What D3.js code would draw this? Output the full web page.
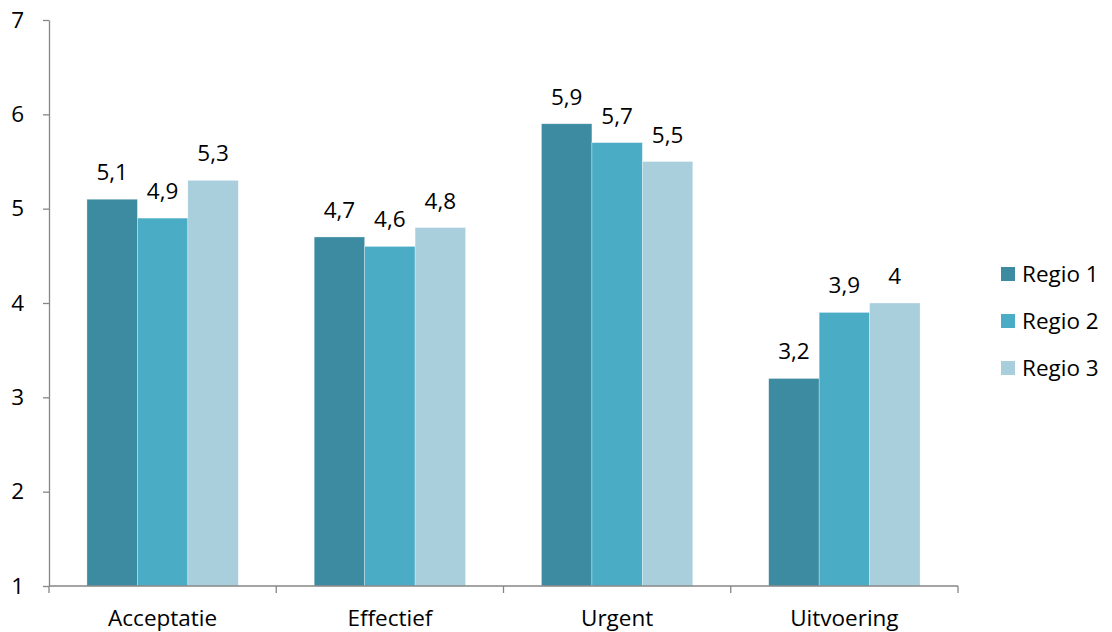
<!DOCTYPE html>
<html><head><meta charset="utf-8">
<script src="https://cdn.jsdelivr.net/npm/d3@7"></script>
<style>body{margin:0;background:#fff}svg{display:block}text{font-family:"Open Sans",sans-serif;fill:#000}</style>
</head><body><svg width="1112" height="632"></svg>
<script>
const categories = ["Acceptatie","Effectief","Urgent","Uitvoering"];
const seriesNames = ["Regio 1","Regio 2","Regio 3"];
const regio1 = [5.1,4.7,5.9,3.2];
const regio2 = [4.9,4.6,5.7,3.9];
const regio3 = [5.3,4.8,5.5,4.0];
const yTicks = [1,2,3,4,5,6,7];
const colors = ["#3d8ba1","#4bacc6","#a9cfdd"];
const series = [regio1, regio2, regio3];
const FS = "22.5px";

const svg = d3.select("svg");
const pL = 49, pR = 958, pT = 20, pB = 586;
const x = d3.scaleBand().domain(categories).range([pL,pR]).paddingInner(0.334).paddingOuter(0.167);
const x1 = d3.scaleBand().domain(seriesNames).range([0,x.bandwidth()]);
const y = d3.scaleLinear().domain([1,7]).range([pB,pT]);
const fmt = v => String(v).replace(".",",");

// bars
categories.forEach((c,i)=>{
  const g = svg.append("g").attr("transform",`translate(${x(c)},0)`);
  seriesNames.forEach((s,j)=>{
    const v = series[j][i];
    g.append("rect").attr("x",x1(s)).attr("width",x1.bandwidth()).attr("y",y(v)).attr("height",y(1)-y(v))
      .attr("fill",colors[j]).attr("stroke","#ffffff").attr("stroke-opacity",0.5).attr("stroke-width",0.6);
    g.append("text").attr("x",x1(s)+x1.bandwidth()/2).attr("y",y(v)-19).attr("text-anchor","middle")
      .style("font-size",FS).text(fmt(v));
  });
});

// y axis
const ya = svg.append("g").attr("transform",`translate(${pL},0)`)
  .call(d3.axisLeft(y).tickValues(yTicks).tickSize(6).tickSizeOuter(0).tickPadding(19).tickFormat(d=>d));
ya.select(".domain").attr("stroke","#868686").attr("stroke-width",1.3);
ya.selectAll(".tick line").attr("stroke","#868686").attr("stroke-width",1.3);
ya.selectAll(".tick text").style("font-size",FS).style("font-family","'Open Sans',sans-serif").attr("fill","#000");

// x axis
const xEdges = d3.range(categories.length+1).map(i=>pL+(pR-pL)*i/categories.length);
const xa = svg.append("g").attr("transform",`translate(0,${pB})`);
xa.append("line").attr("x1",pL).attr("x2",pR).attr("stroke","#868686").attr("stroke-width",1.3);
xa.selectAll("line.t").data(xEdges).join("line").attr("class","t").attr("x1",d=>d).attr("x2",d=>d).attr("y1",0).attr("y2",7)
  .attr("stroke","#868686").attr("stroke-width",1.3);
xa.selectAll("text").data(categories).join("text").attr("x",d=>x(d)+x.bandwidth()/2).attr("y",40)
  .attr("text-anchor","middle").style("font-size",FS).text(d=>d);

// legend
const lg = svg.append("g").attr("transform","translate(1001,274)");
seriesNames.forEach((s,j)=>{
  lg.append("rect").attr("x",0).attr("y",j*47-7).attr("width",14).attr("height",14).attr("fill",colors[j]);
  lg.append("text").attr("x",21).attr("y",j*47+8).style("font-size",FS).text(s);
});
</script></body></html>
